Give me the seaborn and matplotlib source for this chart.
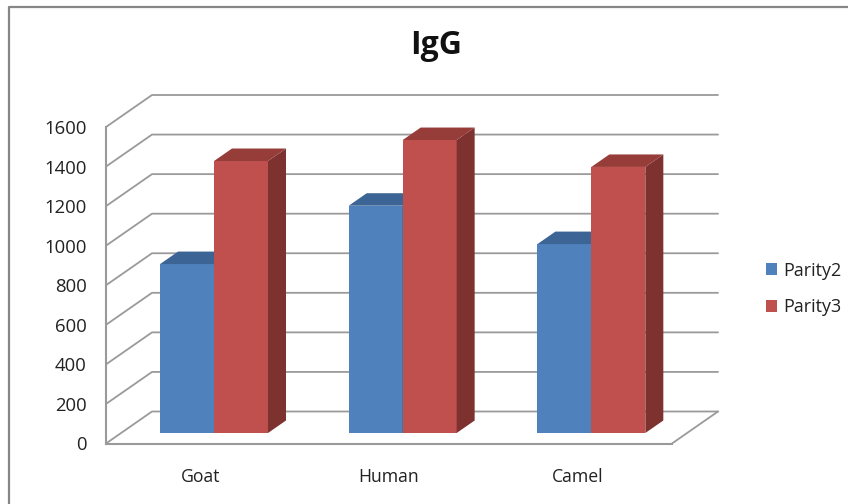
import matplotlib
matplotlib.use("Agg")
import matplotlib.pyplot as plt
from matplotlib.lines import Line2D
import numpy as np
import pandas as pd
import seaborn as sns

animals = ["Goat", "Human", "Camel"]
parity2 = [854, 1149, 955]
parity3 = [1375, 1481, 1345]
yticks = [0, 200, 400, 600, 800, 1000, 1200, 1400, 1600]
series_names = ["Parity2", "Parity3"]

W, H = 848, 504
GRID = "#9a9a9a"
FRONT = ["#4F81BD", "#C0504D"]
TOP = ["#3C6494", "#963D3A"]
SIDE = ["#345680", "#7D3230"]

sns.set_style("white")
plt.rcParams["font.family"] = ["Open Sans", "DejaVu Sans"]

df = pd.DataFrame({
	"animal": animals * 2,
	"value": parity2 + parity3,
	"series": [series_names[0]] * 3 + [series_names[1]] * 3,
})

fig = plt.figure(figsize=(W / 100, H / 100), dpi=100)
ax = fig.add_axes([106 / W, 1 - 443.5 / H, 566 / W, 316.5 / H])
ax.patch.set_alpha(0)

sns.barplot(data=df, x="animal", y="value", hue="series", hue_order=series_names,
	palette=FRONT, width=0.572, gap=0, saturation=1, linewidth=0, ax=ax)
ax.set_xlim(-0.5, 2.5)
ax.set_ylim(0, 1600)
ax.set_xlabel("")
ax.set_ylabel("")
ax.set_yticks(yticks)

# pixel to data helpers
px_x = 3 / 566
px_y = 1600 / 316.5

# back wall and floor
back_x = 46 * px_x
back_y = 32 * px_y
for t in yticks:
	ax.plot([-0.5, -0.5 + back_x, 2.5 + back_x], [t, t + back_y, t + back_y],
		color=GRID, lw=1.3, clip_on=False, zorder=0.5)
ax.plot([2.5 + back_x, 2.5], [back_y, 0], color=GRID, lw=1.3, clip_on=False, zorder=0.5)

# 3d look: move the bars off the front edge, add top and side faces
depth_x = 18 * px_x
depth_y = 12.5 * px_y
shift_x = 13.7 * px_x
shift_y = 10.5 * px_y
for i, container in enumerate(ax.containers):
	for bar in container:
		bar.set_x(bar.get_x() + shift_x)
		bar.set_y(shift_y)
		bar.set_zorder(2 + i)
		x0, x1 = bar.get_x(), bar.get_x() + bar.get_width()
		y0, y1 = shift_y, shift_y + bar.get_height()
		ax.fill([x1, x1 + depth_x, x1 + depth_x, x1],
			[y0, y0 + depth_y, y1 + depth_y, y1],
			color=SIDE[i], lw=0, clip_on=False, zorder=2 + i)
		ax.fill([x0, x0 + depth_x, x1 + depth_x, x1],
			[y1, y1 + depth_y, y1 + depth_y, y1],
			color=TOP[i], lw=0, clip_on=False, zorder=2 + i)

sns.despine(ax=ax)
for side in ["left", "bottom"]:
	ax.spines[side].set_color(GRID)
	ax.spines[side].set_linewidth(1.5)
ax.tick_params(axis="y", length=0, pad=14, labelsize=13.3, labelcolor="#222222")
ax.tick_params(axis="x", length=0, pad=18, labelsize=12.7, labelcolor="#222222")

handles, labels = ax.get_legend_handles_labels()
ax.get_legend().remove()
fig.legend(handles, labels, loc="center left", bbox_to_anchor=(766 / W, 1 - 289 / H),
	frameon=False, fontsize=13, labelcolor="#222222", handlelength=0.62, handleheight=0.62,
	handletextpad=0.33, labelspacing=1.05, borderpad=0, borderaxespad=0)

fig.text(436 / W, 1 - 45 / H, "IgG", fontsize=23, fontweight="bold", color="#111111",
	ha="center", va="center")

# chart frame (only top and left are inside the picture)
frame = "#868686"
fig.add_artist(Line2D([1, 9 / W, 9 / W], [1 - 7 / H, 1 - 7 / H, 0], color=frame, lw=1.6,
	transform=fig.transFigure))

fig.savefig("out.png", dpi=100)
